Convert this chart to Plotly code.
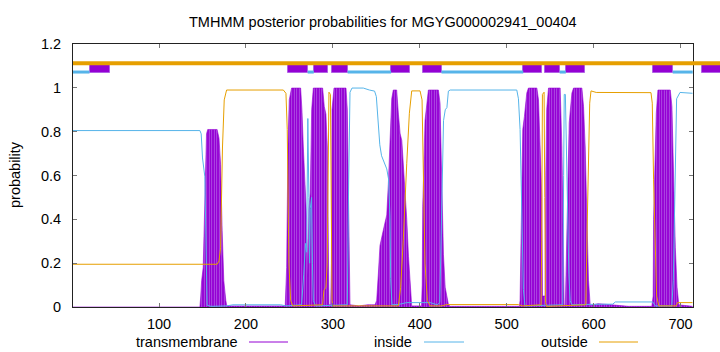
import plotly.graph_objects as go

# ---------------- data ----------------
TITLE = "TMHMM posterior probabilities for MGYG000002941_00404"
SEQ_LEN = 714
X_TICKS = [100, 200, 300, 400, 500, 600, 700]
Y_TICKS = [0, 0.2, 0.4, 0.6, 0.8, 1.0, 1.2]
Y_TICK_TEXT = ["0", "0.2", "0.4", "0.6", "0.8", "1", "1.2"]

# posterior probability of "inside"
IN_X = [1, 147, 148.5, 150, 152.7, 154, 155.3, 160, 178, 185, 240, 246, 264, 266.5, 268.5,
        269.8, 271.2, 272.4, 273.2, 274, 275.5, 276.5, 277.5, 280, 316.6, 318.2, 319.7, 322,
        335, 342, 348, 350, 352, 354, 356, 360, 362, 364, 365.7, 366.5, 368, 376, 385, 412,
        420, 423, 424, 425.3, 427.3, 429.3, 431.2, 432.9, 435, 511.6, 513.5, 515.4, 517.3,
        519.2, 521, 564.5, 565.5, 566.2, 567.5, 568.5, 570, 571.5, 573, 575, 597, 622, 625,
        668, 671, 690, 691.7, 693.6, 695.5, 699.4, 714]
IN_Y = [0.805, 0.805, 0.79, 0.68, 0.594, 0.3, 0.008, 0.003, 0.005, 0.01, 0.01, 0.005, 0.01,
        0.15, 0.29, 0.25, 0.86, 0.5, 0.2, 0.45, 0.5, 0.2, 0.03, 0.005, 0.01, 0.58, 0.98, 0.999,
        0.999, 0.99, 0.985, 0.96, 0.85, 0.74, 0.69, 0.655, 0.63, 0.585, 0.41, 0.13, 0.01, 0.012,
        0.02, 0.02, 0.01, 0.02, 0.2, 0.58, 0.85, 0.9, 0.91, 0.985, 0.99, 0.99, 0.95, 0.81,
        0.41, 0.08, 0.005, 0.01, 0.6, 0.97, 0.97, 0.72, 0.4, 0.15, 0.03, 0.01, 0.012, 0.013,
        0.023, 0.023, 0.005, 0.005, 0.12, 0.58, 0.95, 0.979, 0.975]

# posterior probability of "outside"
OUT_X = [1, 166.8, 169, 170.8, 173, 175, 177.7, 243, 246, 247.5, 249.4, 251.4, 254, 288.2,
         289.7, 292, 293.5, 294.5, 295.5, 297.2, 298, 299, 300, 375.4, 378, 381, 385, 388,
         390.7, 400.3, 402.6, 404, 406, 408.7, 411.8, 425, 431, 513.5, 518, 539.5, 540.3,
         541.1, 543, 543.8, 544.6, 546, 591, 592.5, 594, 595.5, 597, 603, 666, 667.5, 669,
         671, 672.5, 675, 695, 696.5, 714]
OUT_Y = [0.195, 0.195, 0.21, 0.27, 0.73, 0.945, 0.99, 0.99, 0.975, 0.81, 0.2, 0.03, 0.005,
         0.01, 0.076, 0.09, 0.2, 0.85, 0.98, 0.97, 0.5, 0.03, 0.005, 0.005, 0.09, 0.305, 0.656,
         0.884, 0.986, 0.986, 0.945, 0.58, 0.2, 0.03, 0.005, 0.005, 0.011, 0.011, 0.005, 0.01,
         0.3, 0.97, 0.98, 0.5, 0.02, 0.003, 0.01, 0.35, 0.75, 0.93, 0.986, 0.979, 0.978, 0.93,
         0.58, 0.2, 0.05, 0.005, 0.005, 0.02, 0.02]

# posterior probability of "transmembrane"
TM_X = [1, 147, 148, 149, 150.8, 152.7, 154.6, 156, 166.8, 169, 170.8, 172.6, 174.5, 176.8,
        178, 244, 245.2, 246.8, 248.3, 249.8, 252.5, 262.9, 264.4, 266, 267.9, 269.8, 271.2,
        272.4, 274, 275.6, 277.5, 288.2, 290.1, 292, 293.6, 294.8, 295.5, 297.5, 298.3, 299,
        301.3, 315.1, 316.6, 318.2, 319.7, 330, 340, 348.5, 350.4, 352.3, 354.2, 358, 360, 362,
        363.8, 364.6, 365.7, 367.7, 369.5, 373.4, 375.4, 377.4, 379.3, 381.2, 383.2, 385, 387,
        388.8, 390.7, 402, 402.8, 403.4, 406, 409.9, 421.4, 423.3, 425.3, 427.2, 429.2, 431.1,
        433, 435, 514.5, 515.4, 516.2, 517.4, 518.5, 520.4, 523.1, 525, 534.7, 536.6, 538.5,
        540.4, 541.2, 543.8, 544.2, 545, 546, 548.1, 561.5, 563.5, 564.6, 565.5, 566.1, 567.5,
        568.1, 570, 571.9, 575, 576.9, 586.5, 588.4, 590.3, 592.3, 594.1, 596.1, 600, 605, 615,
        625, 640, 667, 668.5, 669, 670.5, 672.1, 674, 688.2, 690.1, 692, 694, 696, 698, 714]
TM_Y = [0, 0, 0.05, 0.12, 0.18, 0.43, 0.79, 0.81, 0.81, 0.77, 0.65, 0.35, 0.12, 0.03, 0.005,
        0.005, 0.01, 0.18, 0.73, 0.945, 0.999, 0.999, 0.9, 0.73, 0.53, 0.4, 0.14, 0.45, 0.52,
        0.9, 0.999, 0.999, 0.915, 0.88, 0.73, 0.1, 0.01, 0.01, 0.2, 0.9, 0.999, 0.999, 0.9,
        0.43, 0.01, 0.005, 0.01, 0.01, 0.03, 0.15, 0.28, 0.35, 0.38, 0.42, 0.56, 0.64, 0.8,
        0.95, 0.99, 0.99, 0.88, 0.79, 0.76, 0.655, 0.53, 0.4, 0.23, 0.09, 0.005, 0.005, 0.1,
        0.46, 0.85, 0.99, 0.99, 0.93, 0.55, 0.24, 0.09, 0.04, 0.01, 0.003, 0.003, 0.03, 0.2,
        0.53, 0.81, 0.87, 0.976, 0.999, 0.999, 0.945, 0.73, 0.5, 0.05, 0.05, 0.05, 0.6, 0.9,
        0.999, 0.999, 0.73, 0.427, 0.1, 0.007, 0.01, 0.122, 0.58, 0.84, 0.976, 0.999, 0.999,
        0.915, 0.73, 0.457, 0.122, 0.007, 0.01, 0.015, 0.012, 0.008, 0.003, 0.003, 0.05, 0.4,
        0.7, 0.884, 0.99, 0.99, 0.915, 0.58, 0.27, 0.09, 0.01, 0.003]

# predicted topology drawn above the curves
TOP_TM_START = [20, 248, 278, 299, 367, 404, 519, 544, 568, 668, 725]
TOP_TM_END = [43, 271, 294, 317, 389, 425, 541, 561, 590, 691, 760]
TOP_IN_START = [1, 271, 317, 425, 561, 691]
TOP_IN_END = [20, 278, 367, 519, 568, 714]
TOP_OUT_START = [1]
TOP_OUT_END = [760]
TOP_TM_LOW, TOP_TM_HIGH = 1.068, 1.108
TOP_IN_LEVEL = 1.072
TOP_OUT_LEVEL = 1.112

LEGEND_NAMES = ["transmembrane", "inside", "outside"]

# ---------------- style / layout ----------------
W, H = 720, 352
ML, MR, MT, MB = 73, 0, 44, 45
PLOT_RIGHT_PX = 692.7
PURPLE = "#9400D3"
PURPLE_LIGHT = "#b868e6"
BLUE = "#56B4E9"
ORANGE = "#E69F00"
FONT = "Liberation Sans, Arial, sans-serif"
FS = 14.5

paper_w = W - ML - MR
paper_h = H - MT - MB
main_frac = (PLOT_RIGHT_PX - ML) / paper_w
px_per_unit = (PLOT_RIGHT_PX - ML) / (SEQ_LEN - 1)
x2_max = 1 + paper_w / px_per_unit


def pxx(px):
    return (px - ML) / paper_w


def pxy(py):
    return (H - MB - py) / paper_h


fig = go.Figure()

# TM posterior (impulse-like filled area with vertical striping)
fig.add_trace(go.Scatter(x=TM_X, y=TM_Y, mode="lines", fill="tozeroy",
                         line=dict(color=PURPLE, width=0.6), fillcolor=PURPLE,
                         fillpattern=dict(shape="|", bgcolor=PURPLE, fgcolor=PURPLE_LIGHT,
                                          size=2.5, solidity=0.3, fillmode="replace"),
                         showlegend=False, hoverinfo="skip"))
fig.add_trace(go.Scatter(x=IN_X, y=IN_Y, mode="lines", line=dict(color=BLUE, width=1),
                         showlegend=False, hoverinfo="skip"))
fig.add_trace(go.Scatter(x=OUT_X, y=OUT_Y, mode="lines", line=dict(color=ORANGE, width=1),
                         showlegend=False, hoverinfo="skip"))


def segs(starts, ends, level):
    xs, ys = [], []
    for s, e in zip(starts, ends):
        xs += [s, e, None]
        ys += [level, level, None]
    return xs, ys


ox, oy = segs(TOP_OUT_START, TOP_OUT_END, TOP_OUT_LEVEL)
fig.add_trace(go.Scatter(x=ox, y=oy, mode="lines", line=dict(color=ORANGE, width=4),
                         xaxis="x2", yaxis="y2", showlegend=False, hoverinfo="skip"))
ix, iy = segs(TOP_IN_START, TOP_IN_END, TOP_IN_LEVEL)
fig.add_trace(go.Scatter(x=ix, y=iy, mode="lines", line=dict(color=BLUE, width=3),
                         xaxis="x2", yaxis="y2", showlegend=False, hoverinfo="skip"))
fig.add_trace(go.Bar(x=[(s + e) / 2 for s, e in zip(TOP_TM_START, TOP_TM_END)],
                     width=[e - s for s, e in zip(TOP_TM_START, TOP_TM_END)],
                     y=[TOP_TM_HIGH - TOP_TM_LOW] * len(TOP_TM_START),
                     base=[TOP_TM_LOW] * len(TOP_TM_START),
                     marker=dict(color=PURPLE, line=dict(color="#b060e6", width=1)),
                     xaxis="x2", yaxis="y2", showlegend=False, hoverinfo="skip"))

axis_common = dict(showgrid=False, zeroline=False, showline=True, mirror="ticks",
                   linecolor="#222", linewidth=1, ticks="inside", ticklen=4,
                   tickcolor="#777", tickwidth=1,
                   tickfont=dict(family=FONT, size=FS, color="black"))

fig.update_layout(
    width=W, height=H,
    margin=dict(l=ML, r=MR, t=MT, b=MB, pad=0),
    paper_bgcolor="white", plot_bgcolor="rgba(0,0,0,0)",
    xaxis=dict(domain=[0, main_frac], range=[1, SEQ_LEN], tickvals=X_TICKS,
               ticklabelstandoff=4, anchor="y", **axis_common),
    yaxis=dict(domain=[0, 1], range=[0, 1.2], tickvals=Y_TICKS, ticktext=Y_TICK_TEXT,
               ticklabelstandoff=8, anchor="x", **axis_common),
    xaxis2=dict(domain=[0, 1], range=[1, x2_max], visible=False, anchor="y2"),
    yaxis2=dict(domain=[0, 1], range=[0, 1.2], visible=False, anchor="x2"),
    showlegend=False,
    bargap=0,
)

anns = [
    dict(text=TITLE, x=pxx((ML + PLOT_RIGHT_PX) / 2), y=pxy(22), xref="paper", yref="paper",
         showarrow=False, xanchor="center", yanchor="middle",
         font=dict(family=FONT, size=FS, color="black")),
    dict(text="probability", x=pxx(15), y=pxy(175), xref="paper", yref="paper",
         showarrow=False, textangle=-90, xanchor="center", yanchor="middle",
         font=dict(family=FONT, size=FS, color="black")),
]
legend_text_right = [240, 414, 590]
legend_line = [(249, 288), (424, 464), (599, 638)]
legend_colors = [PURPLE, BLUE, ORANGE]
shapes = []
for name, tr, (l0, l1), c in zip(LEGEND_NAMES, legend_text_right, legend_line, legend_colors):
    anns.append(dict(text=name, x=pxx(tr), y=pxy(342), xref="paper", yref="paper",
                     showarrow=False, xanchor="right", yanchor="middle",
                     font=dict(family=FONT, size=FS, color="black")))
    shapes.append(dict(type="line", xref="paper", yref="paper", x0=pxx(l0), x1=pxx(l1),
                       y0=pxy(342), y1=pxy(342), line=dict(color=c, width=1)))
fig.update_layout(annotations=anns, shapes=shapes)

fig.write_html("out.html")
